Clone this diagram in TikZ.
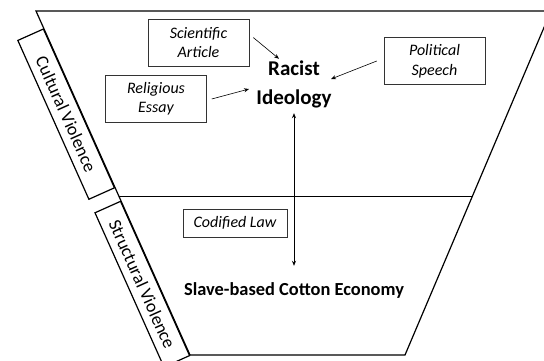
\documentclass[tikz,border=0pt]{standalone}
\usepackage{fontspec}
\setmainfont{Carlito}
\usepackage{tikz}
\usetikzlibrary{arrows.meta,calc,positioning}

\begin{document}
\begin{tikzpicture}[x=1pt, y=-1pt, >={Stealth[length=5pt,width=4pt]}, line width=0.6pt]
   \path[use as bounding box, clip] (0,0) rectangle (544,360);
   % funnel
   \coordinate (tl) at (36,11);
   \coordinate (tr) at (551,11);
   \coordinate (br) at (405,355);
   \coordinate (bl) at (190,355);
   \draw[line width=1.2pt] (tl) -- (tr) -- (br) -- (bl) -- cycle;
   \draw[line width=1.2pt] ($(tl)!0.539!(bl)$) -- ($(tr)!0.539!(br)$);
   \begin{scope}[every node/.style={draw, line width=1.2pt, rotate=-65.9, anchor=north west, minimum height=28pt, inner sep=2pt, font=\fontsize{18}{20}\selectfont}]
    \node[minimum width=174pt] (cult) at ($(tl)!0.05!(bl)$) {Cultural Violence};
    \node[minimum width=169pt] (struc) at ($(tl)!0.551!(bl)$) {Structural Violence};
   \end{scope}
   \begin{scope}[every node/.style={draw=black!80, line width=0.5pt, align=center, minimum width=101pt, minimum height=47pt, font=\itshape\fontsize{16}{19.5}\selectfont}]
    \node (sci) at (198.5,42.5) {Scientific\\Article};
    \node (rel) at (156,98.5) {Religious\\Essay};
    \node (pol) at (434.5,61) {Political\\Speech};
    \node[minimum width=104pt, minimum height=28pt] (law) at (235,223) {Codified Law};
   \end{scope}
   \node[font=\bfseries\fontsize{21}{28.5}\selectfont, align=center, inner sep=0pt] (ideo) at (294,84.5) {Racist\\Ideology};
   \node[font=\bfseries\fontsize{18.4}{22}\selectfont, inner sep=0pt, anchor=base] (slave) at (294,295) {Slave-based Cotton Economy};
   \begin{scope}[->, black, line width=0.6pt]
    \draw ($(sci.east)+(4,-5)$) -- ($(ideo.north)+(-15,-2)$);
    \draw ($(rel.east)+(5,0.5)$) -- ($(ideo.center)+(-45,4.5)$);
    \draw ($(pol.west)+(-7,0)$) -- ($(ideo.center)+(37,-5.5)$);
    \draw[<->, shorten <=5pt, shorten >=16pt] (ideo) -- (slave);
   \end{scope}
\end{tikzpicture}
\end{document}
